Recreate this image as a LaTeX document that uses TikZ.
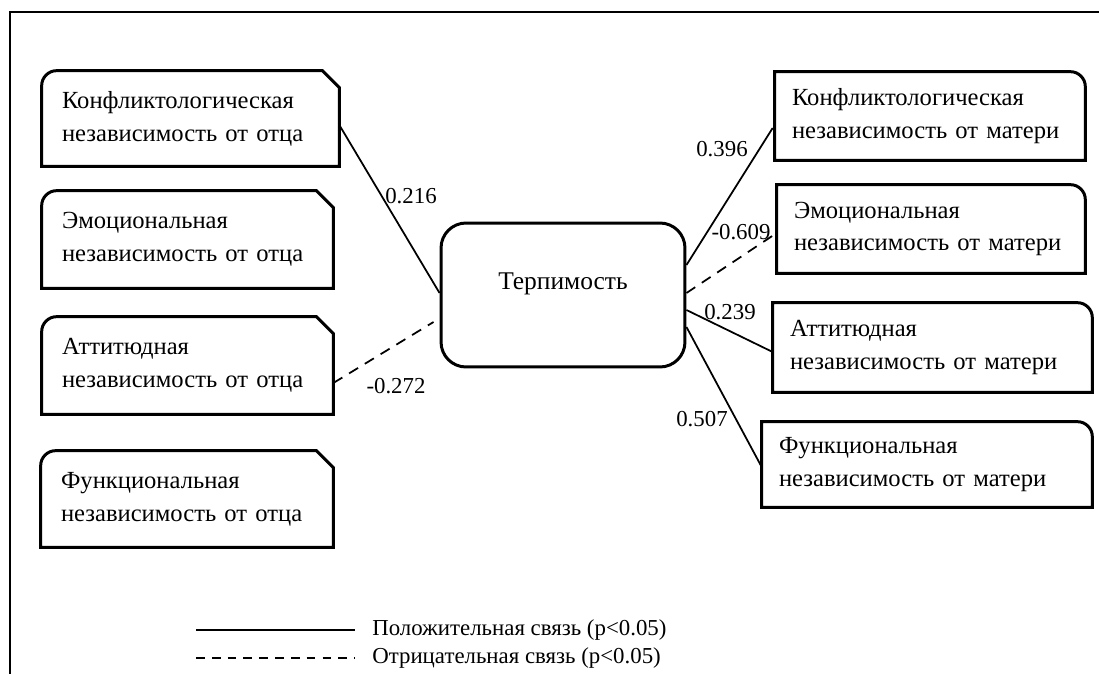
\documentclass[tikz,border=0pt]{standalone}
\usepackage{fontspec}
\setmainfont{Liberation Serif}
\tikzset{
  bx/.style={inner xsep=0.4cm, inner ysep=0pt, align=left, font=\fontsize{14}{18.7}\selectfont},
  rx/.style={bx, inner xsep=0.34cm},
  bline/.style={line width=1.7pt},
  lnk/.style={line width=1pt},
  neg/.style={lnk, dash pattern=on 6pt off 4.5pt},
  wt/.style={inner sep=1pt, font=\fontsize{13}{15}\selectfont}
}
\begin{document}
\begin{tikzpicture}[x=0.02cm, y=0.02cm]
  \useasboundingbox (0,0) rectangle (1099,-673);
  \clip (0,0) rectangle (1099,-673);
  \draw[line width=1.4pt] (10,-12) rectangle (1130,-700);

  % father side
  \node[bx, text width=5.14cm, minimum height=1.9cm] (f1) at (190.5,-118.5) {Конфликтологическая\\независимость от отца};
  \node[bx, text width=5.02cm, minimum height=1.94cm] (f2) at (187.5,-239.5) {Эмоциональная\\независимость от отца};
  \node[bx, text width=5.02cm, minimum height=1.94cm] (f3) at (187.5,-365.5) {Аттитюдная\\независимость от отца};
  \node[bx, text width=5.04cm, minimum height=1.92cm] (f4) at (187,-499) {Функциональная\\независимость от отца};
  \foreach \n in {f1,f2,f3,f4}
    \draw[bline] (\n.south west) -- ([yshift=-3mm]\n.north west) arc[start angle=180, end angle=90, radius=3mm]
      -- ([xshift=-3.4mm]\n.north east) -- ([yshift=-3.4mm]\n.north east) -- (\n.south east) -- cycle;

  % mother side
  \node[rx, text width=5.52cm, minimum height=1.76cm] (m1) at (930,-116) {Конфликтологическая\\независимость от матери};
  \node[rx, text width=5.48cm, minimum height=1.76cm] (m2) at (931,-229) {Эмоциональная\\независимость от матери};
  \node[rx, text width=5.7cm, minimum height=1.78cm] (m3) at (932.5,-347.5) {Аттитюдная\\независимость от матери};
  \node[rx, text width=5.92cm, minimum height=1.7cm] (m4) at (927,-464.5) {Функциональная\\независимость от матери};
  \foreach \n in {m1,m2,m3,m4}
    \draw[bline] (\n.south west) -- (\n.north west) -- ([xshift=-3mm]\n.north east)
      arc[start angle=90, end angle=0, radius=3mm] -- (\n.south east) -- cycle;

  \node[draw, bline, rounded corners=0.5cm, minimum width=4.88cm, minimum height=2.88cm,
    font=\fontsize{14.5}{16}\selectfont, text height=0.34cm, text depth=0.58cm] (t) at (563,-295) {Терпимость};

  \draw[lnk] ([yshift=-0.13cm]f1.east) -- ([yshift=0.04cm]t.west);
  \draw[neg] ([yshift=-0.35cm]f3.east) -- ([xshift=-0.12cm,yshift=-0.54cm]t.west);
  \draw[lnk] ([yshift=0.6cm]t.east) -- ([xshift=-0.04cm,yshift=-0.24cm]m1.west);
  \draw[neg] ([yshift=0.04cm]t.east) -- ([yshift=-0.08cm]m2.west);
  \draw[lnk] ([yshift=-0.3cm]t.east) -- ([yshift=-0.09cm]m3.west);
  \draw[lnk] ([yshift=-0.64cm]t.east) -- ([yshift=-0.05cm]m4.west);

  \node[wt] (w1) at (411,-196) {0.216};
  \node[wt] (w2) at (396,-386) {-0.272};
  \node[wt] (w3) at (722,-149) {0.396};
  \node[wt] (w4) at (741,-232) {-0.609};
  \node[wt] (w5) at (730,-312) {0.239};
  \node[wt] (w6) at (702,-419) {0.507};

  % legend
  \coordinate (s1) at (196,-630);
  \coordinate (s2) at (196,-658);
  \node[wt, anchor=west, inner xsep=0.34cm] (pos) at (355,-630) {Положительная связь (p<0.05)};
  \node[wt, anchor=west, inner xsep=0.34cm] (ng) at (355,-658) {Отрицательная связь (p<0.05)};
  \draw[lnk] (s1) -- (pos.west);
  \draw[neg, dash pattern=on 5pt off 4pt] (s2) -- (ng.west);
\end{tikzpicture}
\end{document}
